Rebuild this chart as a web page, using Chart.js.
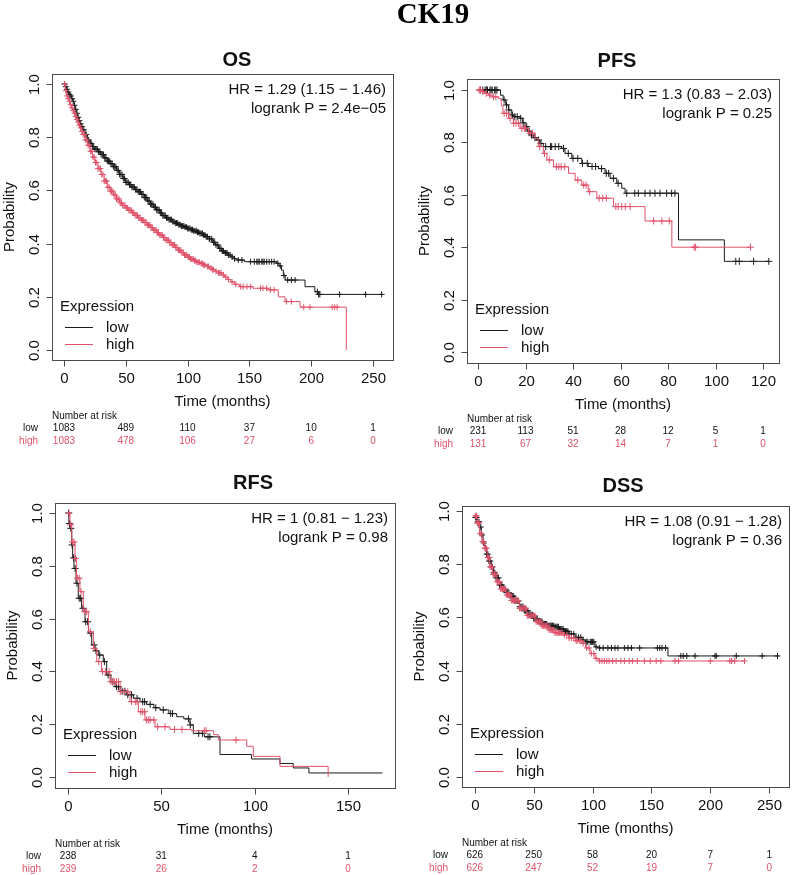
<!DOCTYPE html>
<html>
<head>
<meta charset="utf-8">
<title>CK19</title>
<script src="https://cdn.jsdelivr.net/npm/chart.js@4.4.1/dist/chart.umd.min.js"></script>
<style>
  html, body { margin: 0; padding: 0; background: #fff; }
  #page { position: relative; width: 794px; height: 875px; }
  #page canvas { position: absolute; left: 0; top: 0; }
</style>
</head>
<body>
<div id="page">
  <canvas id="os-chart" width="794" height="875"></canvas>
  <canvas id="pfs-chart" width="794" height="875"></canvas>
  <canvas id="rfs-chart" width="794" height="875"></canvas>
  <canvas id="dss-chart" width="794" height="875"></canvas>
</div>
<script>
// ---- data ----
const yTicks = [0, 0.2, 0.4, 0.6, 0.8, 1.0];
const yTickLabels = ['0.0', '0.2', '0.4', '0.6', '0.8', '1.0'];

// OS
const osTicks = [0, 50, 100, 150, 200, 250];
const osLowRisk = [1083, 489, 110, 37, 10, 1];
const osHighRisk = [1083, 478, 106, 27, 6, 0];
const osStats = ['HR = 1.29 (1.15 \u2212 1.46)', 'logrank P = 2.4e\u221205'];
const osLowTime = [0, 1, 2, 3, 4, 5, 6, 7, 8, 9, 10, 11, 12, 13, 14, 15, 17, 19, 21, 23, 25, 27.5, 30, 32.5, 35, 37.5, 40, 42.5, 45, 47.5, 50, 52.5, 55, 57.5, 60, 62.5, 65, 67.5, 70, 72.5, 75, 77.5, 80, 82.5, 85, 87.5, 90, 92.5, 95, 97.5, 100, 102.5, 105, 107.5, 110, 112.5, 115, 117.5, 120, 122.5, 125, 127.5, 130, 132.5, 135, 137.5, 140, 146, 172, 174, 176, 177.5, 179, 195, 203, 205.5, 258];
const osLowSurv = [1.0, 0.99, 0.98, 0.97, 0.96, 0.955, 0.945, 0.935, 0.92, 0.905, 0.89, 0.875, 0.862, 0.85, 0.84, 0.828, 0.81, 0.79, 0.777, 0.765, 0.755, 0.745, 0.735, 0.722, 0.71, 0.70, 0.689, 0.675, 0.66, 0.645, 0.63, 0.622, 0.612, 0.603, 0.595, 0.585, 0.573, 0.56, 0.548, 0.537, 0.527, 0.515, 0.505, 0.497, 0.49, 0.483, 0.477, 0.471, 0.466, 0.462, 0.457, 0.452, 0.448, 0.443, 0.438, 0.432, 0.426, 0.418, 0.405, 0.395, 0.382, 0.372, 0.365, 0.357, 0.35, 0.343, 0.338, 0.332, 0.326, 0.316, 0.30, 0.28, 0.263, 0.238, 0.219, 0.209, 0.209];
const osLowCens = [0.5, 1.5, 2.5, 3.5, 4.5, 5.5, 6.5, 7.5, 8.5, 9.5, 10.5, 11.5, 12.5, 13.5, 14.5, 16, 17, 18, 19, 20, 21, 22, 23, 24, 25, 26, 27, 28, 29, 30, 31, 32, 33, 34, 35, 36, 37, 38, 39, 40, 41, 42, 43, 44, 45, 46, 47, 48, 49, 50, 51, 52, 53, 54, 55, 56, 57, 58, 59, 60, 61, 62, 63, 64, 65, 66, 67, 68, 69, 70, 71, 72, 73, 74, 75, 76, 77, 78, 79, 80, 81, 82, 83, 84, 85, 86, 87, 88, 89, 90, 91, 92, 93, 94, 95, 96, 97, 98, 99, 100, 101, 102, 103, 104, 105, 106, 107, 108, 109, 110, 111, 112, 113, 114, 115, 116, 117.5, 118, 119.5, 121, 122, 123, 124.5, 126, 127, 128, 129, 130.5, 131, 132, 133, 134.5, 136, 138, 141, 144, 151, 154, 156, 157, 158, 160, 161, 162, 164, 166, 168, 170, 173, 175, 178, 181, 184, 187, 205, 206, 207, 223, 244, 257];
const osHighTime = [0, 1, 2, 3, 4, 5, 6, 7, 8, 9, 10, 11, 12, 13, 14, 15, 17, 19, 21, 23, 25, 27.5, 30, 32.5, 35, 37.5, 40, 42.5, 45, 47.5, 50, 52.5, 55, 57.5, 60, 62.5, 65, 67.5, 70, 72.5, 75, 77.5, 80, 82.5, 85, 87.5, 90, 92.5, 95, 97.5, 100, 102.5, 105, 107.5, 110, 112.5, 115, 117.5, 120, 122.5, 125, 127.5, 130, 132.5, 135, 138, 142, 153, 165, 173.4, 178.8, 191, 228.4];
const osHighSurv = [1.0, 0.975, 0.955, 0.945, 0.935, 0.922, 0.91, 0.9, 0.89, 0.878, 0.867, 0.857, 0.845, 0.835, 0.822, 0.81, 0.79, 0.77, 0.747, 0.725, 0.705, 0.682, 0.66, 0.635, 0.612, 0.597, 0.583, 0.568, 0.553, 0.543, 0.534, 0.525, 0.516, 0.506, 0.497, 0.488, 0.479, 0.47, 0.46, 0.451, 0.441, 0.432, 0.423, 0.413, 0.404, 0.395, 0.385, 0.375, 0.366, 0.357, 0.349, 0.342, 0.336, 0.33, 0.325, 0.32, 0.314, 0.308, 0.302, 0.296, 0.29, 0.282, 0.274, 0.265, 0.256, 0.247, 0.238, 0.232, 0.226, 0.20, 0.182, 0.161, 0.0];
const osHighCens = [0.5, 1.5, 2.5, 3.5, 4.5, 5.5, 6.5, 7.5, 8.5, 9.5, 10.5, 11.5, 12.5, 13.5, 14.5, 15.5, 16.5, 17.5, 18.5, 19.5, 20.5, 21.5, 22.5, 23.5, 24.5, 25.5, 26.5, 27.5, 28.5, 29.5, 30.5, 31.5, 32.5, 33.5, 34.5, 35.5, 36.5, 37.5, 38.5, 39.5, 40.5, 41.5, 42.5, 43.5, 44.5, 45.5, 46.5, 47.5, 48.5, 49.5, 50.5, 51.5, 52.5, 53.5, 54.5, 55.5, 56.5, 57.5, 58.5, 59.5, 60.5, 61.5, 62.5, 63.5, 64.5, 65.5, 66.5, 67.5, 68.5, 69.5, 70.5, 71.5, 72.5, 73.5, 74.5, 75.5, 76.5, 77.5, 78.5, 79.5, 80.5, 81.5, 82.5, 83.5, 84.5, 85.5, 86.5, 87.5, 88.5, 89.5, 90.5, 91.5, 92.5, 93.5, 94.5, 95.5, 96.5, 97.5, 98.5, 99.5, 100.5, 101.5, 102.5, 103.5, 104.5, 105.5, 106.5, 107.5, 108.5, 109.5, 111, 112, 113, 114, 116, 117, 119, 120, 121, 123, 125, 126, 127, 129, 131, 133, 136, 139, 143, 145, 148, 151, 159, 161, 164, 167, 170, 180, 184, 194, 199, 217, 219, 221];

// PFS
const pfsTicks = [0, 20, 40, 60, 80, 100, 120];
const pfsLowRisk = [231, 113, 51, 28, 12, 5, 1];
const pfsHighRisk = [131, 67, 32, 14, 7, 1, 0];
const pfsStats = ['HR = 1.3 (0.83 \u2212 2.03)', 'logrank P = 0.25'];
const pfsLowTime = [0, 9.5, 10.6, 11.7, 12.8, 14, 14.9, 17.7, 18.8, 19.8, 20.9, 21.9, 23.3, 24.7, 26, 27.5, 35.2, 36.6, 39.5, 43.7, 46.4, 50.7, 53.5, 55.6, 58.4, 60.5, 61.9, 84.4, 103.7, 122.4];
const pfsLowSurv = [1.0, 0.98, 0.962, 0.943, 0.924, 0.905, 0.898, 0.892, 0.875, 0.86, 0.843, 0.828, 0.818, 0.809, 0.796, 0.784, 0.777, 0.758, 0.739, 0.72, 0.708, 0.70, 0.682, 0.663, 0.644, 0.625, 0.606, 0.428, 0.346, 0.346];
const pfsLowCens = [1, 2, 3, 3.5, 4, 5, 5.5, 6, 7, 7.5, 8, 11, 12, 13, 14.5, 15.5, 16.5, 18, 19, 20.5, 21.5, 22.5, 24, 25.5, 26.5, 28.5, 30.5, 31, 32.5, 34, 36, 38, 40, 42, 44, 46, 48, 49.5, 52, 54, 55, 57, 59, 62.6, 66, 67.5, 70.3, 72.4, 74.5, 76.6, 79.4, 81.5, 82.9, 108.5, 110, 116, 122.4];
const pfsHighTime = [0, 1.5, 2.9, 4.5, 5.8, 8.5, 9.8, 10.5, 12.8, 14.9, 17.7, 21.2, 24, 25.4, 27.5, 29, 31.8, 38.1, 40.9, 43.7, 46.4, 50, 57, 70.3, 81.6, 114.7];
const pfsHighSurv = [1.0, 0.994, 0.987, 0.98, 0.974, 0.968, 0.94, 0.911, 0.892, 0.873, 0.854, 0.835, 0.816, 0.784, 0.758, 0.733, 0.707, 0.682, 0.656, 0.637, 0.612, 0.587, 0.555, 0.50, 0.40, 0.40];
const pfsHighCens = [0.5, 1, 2, 3.5, 5, 6.5, 7.5, 11, 12, 13.5, 15, 16, 17, 18.5, 19.5, 20, 22, 23, 26, 28, 30, 33, 34, 35, 36.5, 42, 44.5, 45.5, 47, 51, 52.5, 54, 58, 59, 60.5, 62, 64, 73.9, 77.4, 80.5, 91, 91.6, 114.7];

// RFS
const rfsTicks = [0, 50, 100, 150];
const rfsLowRisk = [238, 31, 4, 1];
const rfsHighRisk = [239, 26, 2, 0];
const rfsStats = ['HR = 1 (0.81 \u2212 1.23)', 'logrank P = 0.98'];
const rfsLowTime = [0, 0.5, 1, 2, 2.5, 3.2, 4.3, 5.5, 7.3, 9.1, 11, 12.7, 14.5, 16.2, 18.9, 20.7, 23, 25.2, 28, 31.4, 35, 38.6, 42, 46, 49.3, 54, 58.2, 62, 65.3, 67.1, 73, 81.4, 98.3, 113.5, 120.6, 129, 168.4];
const rfsLowSurv = [1.0, 0.96, 0.942, 0.879, 0.83, 0.79, 0.734, 0.677, 0.639, 0.588, 0.545, 0.50, 0.478, 0.462, 0.437, 0.386, 0.36, 0.342, 0.325, 0.311, 0.298, 0.285, 0.275, 0.262, 0.254, 0.24, 0.228, 0.22, 0.197, 0.165, 0.152, 0.085, 0.068, 0.051, 0.034, 0.015, 0.015];
const rfsLowCens = [0.3, 0.8, 1.5, 2.2, 3, 3.8, 4.8, 6, 6.8, 8, 9.5, 10.5, 12, 14, 15, 17, 19.5, 21.5, 24, 26, 27, 29, 30.5, 32, 34, 37, 40, 41, 44, 47, 51, 55, 56, 64.5, 65.5, 70, 72, 75, 76];
const rfsHighTime = [0, 1.07, 2, 3.75, 4.6, 6.4, 8.2, 10.9, 13.6, 15.4, 18, 22.5, 27.9, 33.2, 37.7, 41.2, 46.6, 54.6, 66, 78, 80.5, 95.7, 99.2, 113.5, 139.3];
const rfsHighSurv = [1.0, 0.955, 0.89, 0.828, 0.753, 0.702, 0.626, 0.55, 0.487, 0.437, 0.399, 0.361, 0.323, 0.285, 0.247, 0.216, 0.19, 0.18, 0.175, 0.16, 0.14, 0.116, 0.078, 0.04, 0.0];
const rfsHighCens = [0.5, 1.5, 2.5, 3.2, 4, 5, 6, 7, 9, 10, 12, 14, 16.5, 18.5, 20, 22, 23, 24, 25, 26, 27, 28, 30, 32, 34, 36, 37, 39, 40, 41, 42, 43, 44, 46, 48, 52, 57, 61, 73, 74, 90];

// DSS
const dssTicks = [0, 50, 100, 150, 200, 250];
const dssLowRisk = [626, 250, 58, 20, 7, 1];
const dssHighRisk = [626, 247, 52, 19, 7, 0];
const dssStats = ['HR = 1.08 (0.91 \u2212 1.28)', 'logrank P = 0.36'];
const dssLowTime = [0, 2, 4, 5.5, 7, 8.5, 10, 12, 14, 16, 18, 21, 24, 27, 30, 34, 38, 42, 46, 50, 54, 58, 62, 68, 72, 76, 80, 85, 91, 94, 102, 104.7, 164, 258];
const dssLowSurv = [0.976, 0.96, 0.94, 0.91, 0.88, 0.86, 0.838, 0.812, 0.79, 0.768, 0.749, 0.722, 0.705, 0.693, 0.68, 0.662, 0.64, 0.625, 0.61, 0.596, 0.585, 0.575, 0.569, 0.565, 0.556, 0.548, 0.538, 0.525, 0.515, 0.508, 0.489, 0.485, 0.455, 0.455];
const dssLowCens = [0.5, 1.5, 2.5, 3.5, 5, 6, 7.5, 9, 10, 11, 12, 13, 14, 15, 16, 17, 18, 19, 20, 21, 22, 23, 24, 25, 26, 27, 28, 29, 30, 31, 32, 33, 34, 35, 36, 37, 38, 39, 40, 41, 42, 43, 44, 45, 46, 47, 48, 49, 50, 51, 52, 53, 54, 55, 56, 57, 58, 59, 60, 61, 62, 63, 64, 65, 66, 67, 68, 69, 70, 71, 72, 73, 74, 75, 76, 77, 78, 79, 80, 82, 84, 86, 88, 90, 92, 95, 96, 98, 99, 100, 101, 103, 106, 109, 113, 116, 119, 121.5, 127, 130, 133, 140, 155, 157, 159, 162, 175, 177, 180, 187, 204, 205, 222, 244, 257];
const dssHighTime = [0, 2, 4, 6, 8.4, 10.5, 12.6, 15, 18.2, 22, 26.6, 31, 37.8, 44, 51.8, 57, 62.9, 68, 74.1, 80, 86, 91, 94, 97.8, 102, 104.7, 229];
const dssHighSurv = [0.982, 0.955, 0.915, 0.885, 0.86, 0.825, 0.79, 0.762, 0.734, 0.707, 0.684, 0.664, 0.634, 0.607, 0.584, 0.568, 0.553, 0.542, 0.534, 0.522, 0.512, 0.502, 0.485, 0.464, 0.446, 0.436, 0.436];
const dssHighCens = [0.5, 1, 1.5, 2, 2.5, 3, 3.5, 4.5, 5.5, 6.5, 7.5, 8.5, 9, 10, 11, 11.5, 12.5, 13, 14, 14.5, 15.5, 16.5, 17, 18, 19, 19.5, 20.5, 21, 22, 23, 23.5, 24.5, 25, 26, 27, 28, 28.5, 29.5, 30, 31, 32, 33, 33.5, 34.5, 35, 36, 37, 38, 38.5, 39.5, 40, 41, 42, 43, 43.5, 44.5, 45, 46, 47, 48, 48.5, 49.5, 50, 51, 52, 53, 53.5, 54.5, 55, 56, 57, 58, 58.5, 59.5, 60, 61, 62, 63, 64, 65, 66, 67, 68, 69, 70, 71, 72, 73, 74, 76, 78, 80, 82, 84, 86, 87, 89, 90, 92, 95, 97, 99, 101, 103, 106, 108, 110, 112, 114, 117, 120, 124, 127, 131, 134, 138, 144, 149, 154, 158, 170, 173, 200, 216.5, 218, 220.7, 229];

// ---- styling ----
const LOW_COLOR = '#1a1a1a';
const HIGH_COLOR = '#DF536B';
const BOX_COLOR = '#4a4a4a';
const TEXT_COLOR = '#111';
const FONT = '"Liberation Sans", Arial, sans-serif';

const panels = [
  {
    id: 'os-chart', name: 'OS', box: [52, 74, 393, 360], titleX: 237, titleY: 66,
    xMin: -9.7, xMax: 266.2, yMin: -0.0376, yMax: 1.0376, mark: 3,
    ticks: osTicks, stats: osStats,
    low: { time: osLowTime, surv: osLowSurv, cens: osLowCens, risk: osLowRisk },
    high: { time: osHighTime, surv: osHighSurv, cens: osHighCens, risk: osHighRisk }
  },
  {
    id: 'pfs-chart', name: 'PFS', box: [467, 79, 779, 363], titleX: 617, titleY: 67,
    xMin: -4.63, xMax: 126.7, yMin: -0.042, yMax: 1.042, mark: 3.5,
    ticks: pfsTicks, stats: pfsStats,
    low: { time: pfsLowTime, surv: pfsLowSurv, cens: pfsLowCens, risk: pfsLowRisk },
    high: { time: pfsHighTime, surv: pfsHighSurv, cens: pfsHighCens, risk: pfsHighRisk }
  },
  {
    id: 'rfs-chart', name: 'RFS', box: [55, 503, 395, 788], titleX: 253, titleY: 489,
    xMin: -6.96, xMax: 175.1, yMin: -0.042, yMax: 1.038, mark: 3.5,
    ticks: rfsTicks, stats: rfsStats,
    low: { time: rfsLowTime, surv: rfsLowSurv, cens: rfsLowCens, risk: rfsLowRisk },
    high: { time: rfsHighTime, surv: rfsHighSurv, cens: rfsHighCens, risk: rfsHighRisk }
  },
  {
    id: 'dss-chart', name: 'DSS', box: [462, 506, 793, 787], titleX: 623, titleY: 492,
    xMin: -10.9, xMax: 266.8, yMin: -0.038, yMax: 1.019, mark: 3,
    ticks: dssTicks, stats: dssStats,
    low: { time: dssLowTime, surv: dssLowSurv, cens: dssLowCens, risk: dssLowRisk },
    high: { time: dssHighTime, surv: dssHighSurv, cens: dssHighCens, risk: dssHighRisk }
  }
];

function toPoints(time, surv) {
  return time.map((t, i) => ({ x: t, y: surv[i] }));
}

// survival value in force at time t (step function)
function survAt(time, surv, t) {
  let s = surv[0];
  for (let i = 0; i < time.length; i++) {
    if (time[i] <= t) s = surv[i];
  }
  return s;
}

function censPoints(group) {
  return group.cens.map(t => ({ x: t, y: survAt(group.time, group.surv, t) }));
}

function drawDecor(chart, panel) {
  const ctx = chart.ctx;
  const area = chart.chartArea;
  const xs = chart.scales.x;
  const ys = chart.scales.y;
  const left = Math.round(area.left);
  const top = Math.round(area.top);
  const right = Math.round(area.right);
  const bottom = Math.round(area.bottom);

  ctx.save();
  ctx.strokeStyle = BOX_COLOR;
  ctx.lineWidth = 1;
  ctx.strokeRect(left + 0.5, top + 0.5, right - left, bottom - top);

  // x axis ticks
  ctx.fillStyle = TEXT_COLOR;
  ctx.font = '15px ' + FONT;
  ctx.textAlign = 'center';
  ctx.textBaseline = 'alphabetic';
  panel.ticks.forEach(t => {
    const px = Math.round(xs.getPixelForValue(t)) + 0.5;
    ctx.beginPath();
    ctx.moveTo(px, bottom + 0.5);
    ctx.lineTo(px, bottom + 6.5);
    ctx.stroke();
    ctx.fillText(String(t), px, bottom + 23);
  });

  // y axis ticks, labels turned like R's las = 0
  yTicks.forEach((v, i) => {
    const py = Math.round(ys.getPixelForValue(v)) + 0.5;
    ctx.beginPath();
    ctx.moveTo(left + 0.5, py);
    ctx.lineTo(left - 5.5, py);
    ctx.stroke();
    ctx.save();
    ctx.translate(left - 13, py);
    ctx.rotate(-Math.PI / 2);
    ctx.fillText(yTickLabels[i], 0, 0);
    ctx.restore();
  });

  // axis titles
  ctx.fillText('Time (months)', (left + right) / 2, bottom + 46);
  ctx.save();
  ctx.translate(left - 38, (top + bottom) / 2);
  ctx.rotate(-Math.PI / 2);
  ctx.fillText('Probability', 0, 0);
  ctx.restore();

  // panel title
  ctx.font = 'bold 20px ' + FONT;
  ctx.fillText(panel.name, panel.titleX, panel.titleY);

  // HR / logrank text
  ctx.font = '15px ' + FONT;
  ctx.textAlign = 'right';
  ctx.fillText(panel.stats[0], right - 7, top + 20);
  ctx.fillText(panel.stats[1], right - 7, top + 39);

  // legend
  ctx.textAlign = 'left';
  ctx.fillText('Expression', left + 8, bottom - 49);
  [['low', LOW_COLOR, bottom - 33], ['high', HIGH_COLOR, bottom - 16]].forEach(([label, color, y]) => {
    ctx.strokeStyle = color;
    ctx.beginPath();
    ctx.moveTo(left + 13, y + 0.5);
    ctx.lineTo(left + 41, y + 0.5);
    ctx.stroke();
    ctx.fillStyle = TEXT_COLOR;
    ctx.fillText(label, left + 54, y + 5);
  });

  // number at risk table
  ctx.font = '10px ' + FONT;
  ctx.fillStyle = TEXT_COLOR;
  ctx.fillText('Number at risk', left, bottom + 59);
  ctx.textAlign = 'right';
  ctx.fillText('low', left - 14, bottom + 71);
  ctx.fillStyle = HIGH_COLOR;
  ctx.fillText('high', left - 14, bottom + 84);
  ctx.textAlign = 'center';
  panel.ticks.forEach((t, i) => {
    const px = xs.getPixelForValue(t);
    ctx.fillStyle = TEXT_COLOR;
    ctx.fillText(String(panel.low.risk[i]), px, bottom + 71);
    ctx.fillStyle = HIGH_COLOR;
    ctx.fillText(String(panel.high.risk[i]), px, bottom + 84);
  });
  ctx.restore();
}

const figureTitle = {
  id: 'figureTitle',
  afterDraw(chart) {
    const ctx = chart.ctx;
    ctx.save();
    ctx.fillStyle = '#000';
    ctx.font = 'bold 29px "Liberation Serif", "Times New Roman", serif';
    ctx.textAlign = 'center';
    ctx.textBaseline = 'alphabetic';
    ctx.fillText('CK19', 433, 23);
    ctx.restore();
  }
};

function renderPanel(panel, index) {
  const ctx = document.getElementById(panel.id).getContext('2d');
  const [bl, bt, br, bb] = panel.box;
  const extra = [{
    id: 'decor-' + panel.id,
    afterDraw(chart) { drawDecor(chart, panel); }
  }];
  if (index === 0) extra.push(figureTitle);

  return new Chart(ctx, {
    type: 'line',
    data: {
      datasets: [
        {
          label: 'high censored', data: censPoints(panel.high), showLine: false,
          pointStyle: 'cross', pointRadius: panel.mark, pointBorderWidth: 1,
          borderColor: HIGH_COLOR, backgroundColor: HIGH_COLOR, order: 0
        },
        {
          label: 'high', data: toPoints(panel.high.time, panel.high.surv), stepped: true,
          borderColor: HIGH_COLOR, borderWidth: 1, pointRadius: 0, fill: false, order: 1
        },
        {
          label: 'low censored', data: censPoints(panel.low), showLine: false,
          pointStyle: 'cross', pointRadius: panel.mark, pointBorderWidth: 1,
          borderColor: LOW_COLOR, backgroundColor: LOW_COLOR, order: 2
        },
        {
          label: 'low', data: toPoints(panel.low.time, panel.low.surv), stepped: true,
          borderColor: LOW_COLOR, borderWidth: 1, pointRadius: 0, fill: false, order: 3
        }
      ]
    },
    options: {
      responsive: false,
      animation: false,
      events: [],
      layout: { padding: { left: bl, top: bt, right: 794 - br, bottom: 875 - bb } },
      scales: {
        x: { type: 'linear', min: panel.xMin, max: panel.xMax, display: false },
        y: { type: 'linear', min: panel.yMin, max: panel.yMax, display: false }
      },
      plugins: {
        legend: { display: false },
        tooltip: { enabled: false },
        title: { display: false }
      }
    },
    plugins: extra
  });
}

document.addEventListener('DOMContentLoaded', () => {
  panels.forEach((panel, i) => renderPanel(panel, i));
});
</script>
</body>
</html>
